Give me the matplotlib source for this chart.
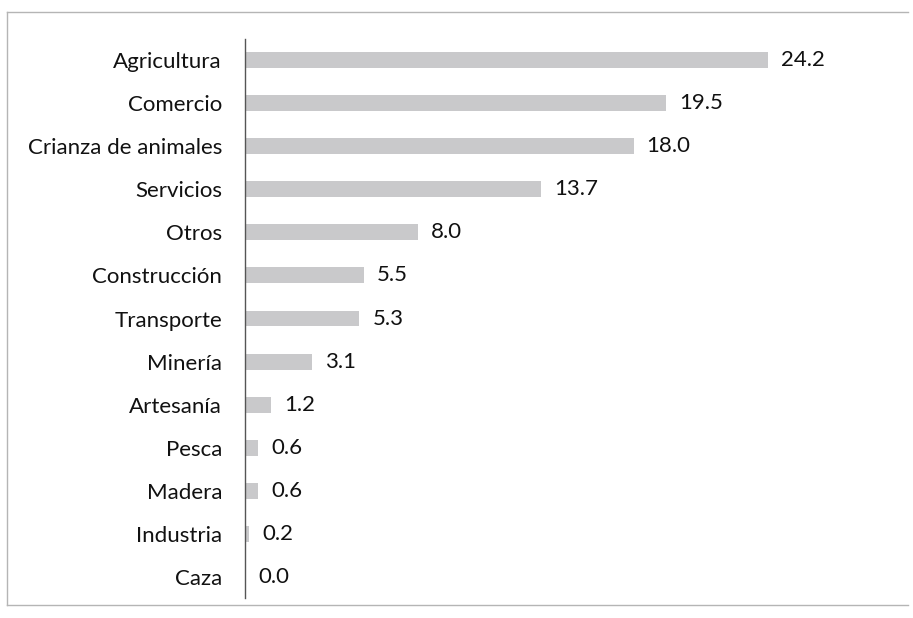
import matplotlib.pyplot as plt
from matplotlib.lines import Line2D

categories = ['Agricultura', 'Comercio', 'Crianza de animales', 'Servicios', 'Otros',
              'Construcción', 'Transporte', 'Minería', 'Artesanía', 'Pesca',
              'Madera', 'Industria', 'Caza']
values = [24.2, 19.5, 18.0, 13.7, 8.0, 5.5, 5.3, 3.1, 1.2, 0.6, 0.6, 0.2, 0.0]

plt.rcParams['font.family'] = ['Lato', 'DejaVu Sans']

fig = plt.figure(figsize=(9.13, 6.18), dpi=100)
ax = fig.add_axes([0.2683, 0.0316, 0.7097, 0.906])

ypos = list(range(len(categories)))[::-1]
ax.barh(ypos, values, height=0.37, color='#c9c9cb', edgecolor='none')
for y, v in zip(ypos, values):
    ax.text(v + 0.6, y, f'{v:.1f}', va='center', ha='left', fontsize=16, color='#111111')

ax.set_yticks(ypos)
ax.set_yticklabels(categories, fontsize=16, color='#111111')
ax.tick_params(axis='y', length=0, pad=16.5)
ax.set_xticks([])
ax.set_xlim(0, 30)
ax.set_ylim(-0.5, 12.5)
for s in ['top', 'right', 'bottom']:
    ax.spines[s].set_visible(False)
ax.spines['left'].set_color('#555555')
ax.spines['left'].set_linewidth(1.0)

# scanned frame around the chart
frame = '#b5b5b5'
fig.add_artist(Line2D([0.008, 0.995], [0.981, 0.981], color=frame, lw=1.0))
fig.add_artist(Line2D([0.008, 0.008], [0.981, 0.021], color=frame, lw=1.0))
fig.add_artist(Line2D([0.008, 0.995], [0.021, 0.021], color=frame, lw=1.0))

fig.savefig('out.png', dpi=100)
